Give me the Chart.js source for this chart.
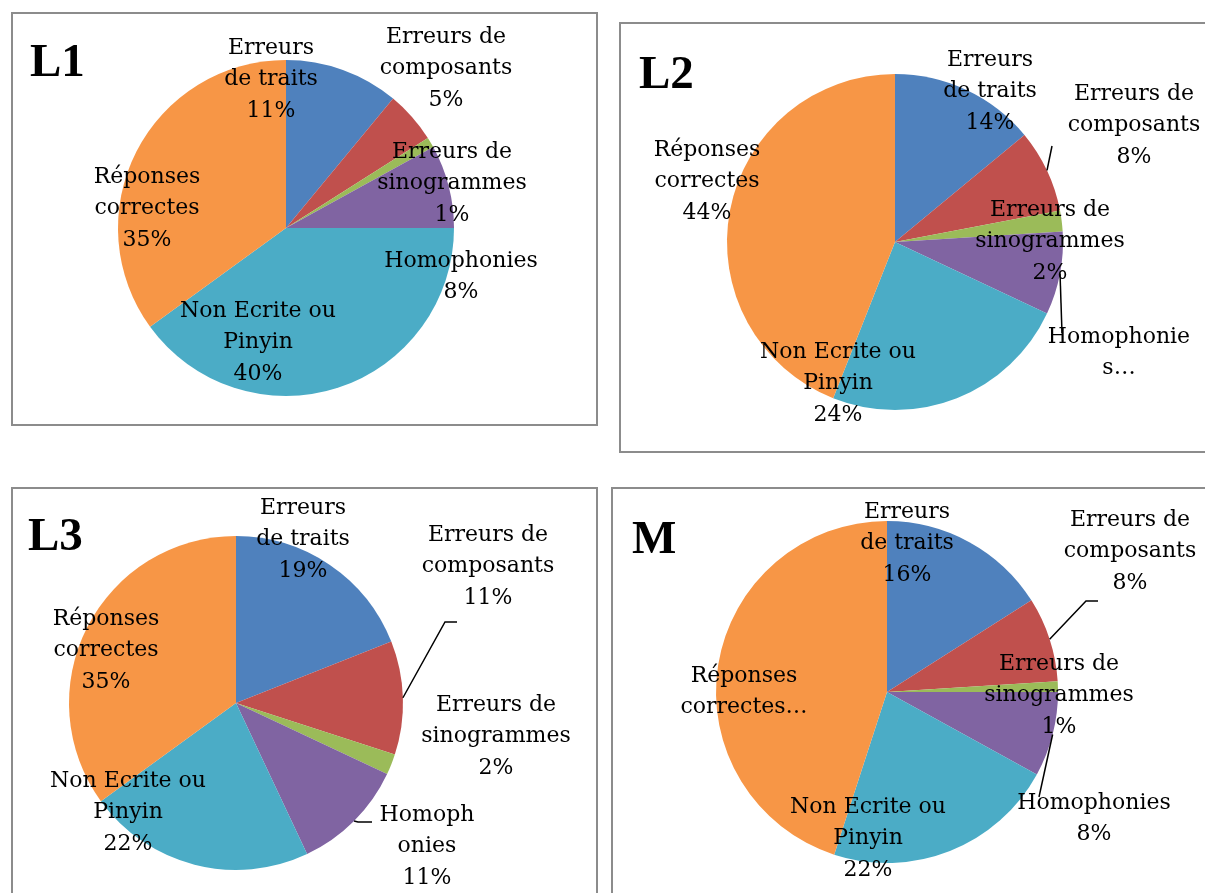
<!DOCTYPE html>
<html>
<head>
<meta charset="utf-8">
<script src="https://cdn.jsdelivr.net/npm/chart.js@4"></script>
<style>
  html, body { margin: 0; padding: 0; background: #fff; overflow: hidden; }
  body { width: 1205px; height: 893px; position: relative; }
  .box { position: absolute; border: 2px solid #8c8c8c; box-sizing: border-box; }
  canvas { position: absolute; left: 0; top: 0; }
</style>
</head>
<body>
<div class="box" style="left:11px;top:12px;width:587px;height:414px"></div>
<div class="box" style="left:619px;top:22px;width:620px;height:431px"></div>
<div class="box" style="left:11px;top:487px;width:587px;height:430px"></div>
<div class="box" style="left:611px;top:487px;width:620px;height:430px"></div>
<canvas id="chartL1" width="1205" height="893"></canvas>
<canvas id="chartL2" width="1205" height="893"></canvas>
<canvas id="chartL3" width="1205" height="893"></canvas>
<canvas id="chartM" width="1205" height="893"></canvas>
<script>
// categories, same order in every pie (clockwise from 12 o'clock)
const categories = ['Erreurs de traits', 'Erreurs de composants', 'Erreurs de sinogrammes',
                    'Homophonies', 'Non Ecrite ou Pinyin', 'Réponses correctes'];
const colors = ['#4f81bd', '#c0504d', '#9bbb59', '#8064a2', '#4bacc6', '#f79646'];

// percentages per group
const valuesL1 = [11, 5, 1, 8, 40, 35];
const valuesL2 = [14, 8, 2, 8, 24, 44];
const valuesL3 = [19, 11, 2, 11, 22, 35];
const valuesM  = [16, 8, 1, 8, 22, 45];

// data label text as wrapped in each chart (percent is added below unless cut with …)
const linesL1 = [['Erreurs', 'de traits'], ['Erreurs de', 'composants'], ['Erreurs de', 'sinogrammes'],
                 ['Homophonies'], ['Non Ecrite ou', 'Pinyin'], ['Réponses', 'correctes']];
const linesL2 = [['Erreurs', 'de traits'], ['Erreurs de', 'composants'], ['Erreurs de', 'sinogrammes'],
                 ['Homophonie', 's…'], ['Non Ecrite ou', 'Pinyin'], ['Réponses', 'correctes']];
const linesL3 = [['Erreurs', 'de traits'], ['Erreurs de', 'composants'], ['Erreurs de', 'sinogrammes'],
                 ['Homoph', 'onies'], ['Non Ecrite ou', 'Pinyin'], ['Réponses', 'correctes']];
const linesM  = [['Erreurs', 'de traits'], ['Erreurs de', 'composants'], ['Erreurs de', 'sinogrammes'],
                 ['Homophonies'], ['Non Ecrite ou', 'Pinyin'], ['Réponses', 'correctes…']];

// draws data labels, leader lines and the big title
const pieLabels = {
    id: 'pieLabels',
    afterDatasetsDraw(chart, args, opts) {
        const ctx = chart.ctx;
        const meta = chart.getDatasetMeta(0);
        const values = chart.data.datasets[0].data;
        const cx = meta.data[0].x, cy = meta.data[0].y;
        ctx.save();

        // leader lines start at the middle of the slice edge
        ctx.strokeStyle = '#000';
        ctx.lineWidth = 1.5;
        Object.keys(opts.leaders).forEach(i => {
            const p = meta.data[i].getProps(['x', 'y', 'startAngle', 'endAngle', 'outerRadius'], true);
            const mid = (p.startAngle + p.endAngle) / 2;
            ctx.beginPath();
            ctx.moveTo(p.x + Math.cos(mid) * p.outerRadius, p.y + Math.sin(mid) * p.outerRadius);
            opts.leaders[i].forEach(pt => ctx.lineTo(cx + pt[0], cy + pt[1]));
            ctx.stroke();
        });

        ctx.fillStyle = '#000';
        ctx.font = '22px "DejaVu Serif"';
        ctx.textAlign = 'center';
        ctx.textBaseline = 'middle';
        opts.lines.forEach((lines, i) => {
            const text = lines.slice();
            if (!text[text.length - 1].endsWith('…')) text.push(values[i] + '%');
            const [dx, dy] = opts.positions[i];
            text.forEach((t, k) => ctx.fillText(t, cx + dx, cy + dy + k * 31.5));
        });

        ctx.font = 'bold 47px "Liberation Serif"';
        ctx.textAlign = 'left';
        ctx.textBaseline = 'alphabetic';
        ctx.fillText(opts.title, opts.titleAt[0], opts.titleAt[1]);
        ctx.restore();
    }
};

function makePie(id, values, lines, center, radius, positions, leaders, title, titleAt) {
    const ctx = document.getElementById(id).getContext('2d');
    new Chart(ctx, {
        type: 'pie',
        data: {
            labels: categories,
            datasets: [{
                data: values,
                backgroundColor: colors,
                borderWidth: 0
            }]
        },
        options: {
            responsive: false,
            animation: false,
            events: [],
            layout: {
                padding: {
                    left: center[0] - radius,
                    top: center[1] - radius,
                    right: 1205 - center[0] - radius,
                    bottom: 893 - center[1] - radius
                }
            },
            plugins: {
                legend: { display: false },
                tooltip: { enabled: false },
                pieLabels: {
                    lines: lines,
                    positions: positions,
                    leaders: leaders,
                    title: title,
                    titleAt: titleAt
                }
            }
        },
        plugins: [pieLabels]
    });
}

makePie('chartL1', valuesL1, linesL1, [286, 228], 168,
    [[-15, -180], [160, -191], [166, -76], [175, 33], [-28, 83], [-139, -51]],
    {}, 'L1', [30, 76]);

makePie('chartL2', valuesL2, linesL2, [895, 242], 168,
    [[95, -182], [239, -148], [155, -32], [224, 95], [-57, 110], [-188, -92]],
    { 1: [[157, -96]], 3: [[167, 91]] }, 'L2', [639, 88]);

makePie('chartL3', valuesL3, linesL3, [236, 703], 167,
    [[67, -195], [252, -168], [260, 2], [191, 112], [-108, 78], [-130, -84]],
    { 1: [[209, -81], [221, -81]], 3: [[122, 119], [136, 119]] }, 'L3', [28, 550]);

makePie('chartM', valuesM, linesM, [887, 692], 171,
    [[20, -180], [243, -172], [172, -28], [207, 111], [-19, 115], [-143, -16]],
    { 1: [[199, -91], [211, -91]], 3: [[152, 105]] }, 'M', [632, 553]);
</script>
</body>
</html>
